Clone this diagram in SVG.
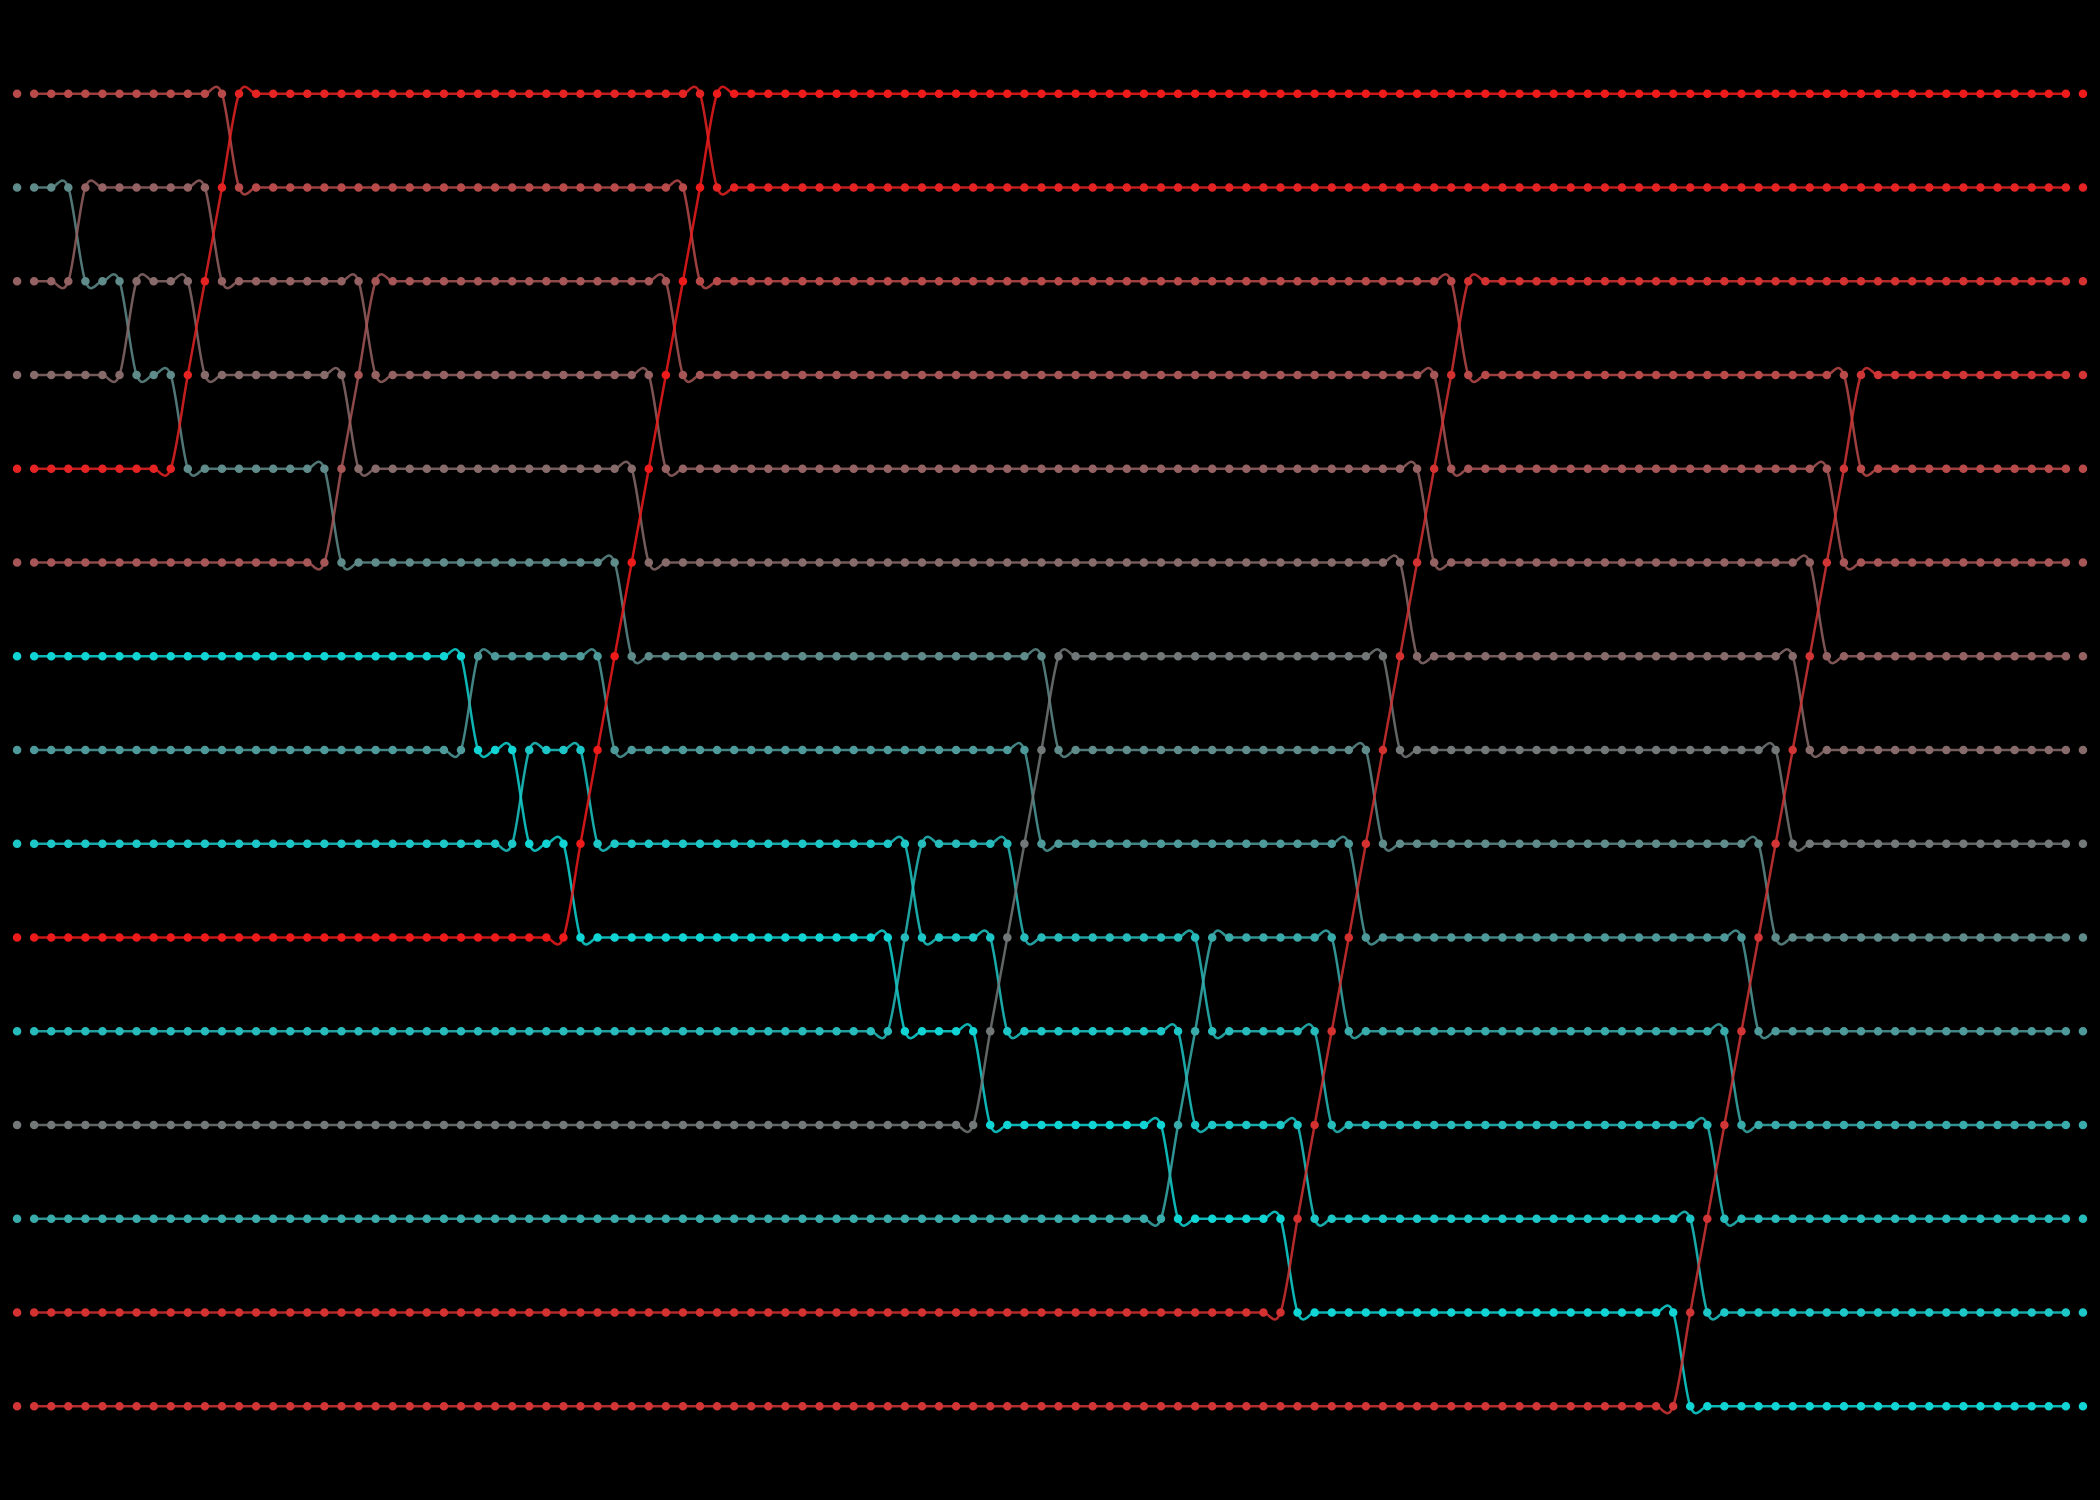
<svg xmlns="http://www.w3.org/2000/svg" width="2100" height="1500" viewBox="0 0 2100 1500">
<style>
.c path{fill:none;stroke-width:2.5;vector-effect:non-scaling-stroke;stroke-opacity:.85}
.d line{stroke-width:.5;stroke-linecap:round;stroke-dasharray:.001 .999}
.d circle{r:.25;stroke:none}
.e0{stroke:#b94a4a;fill:#b94a4a}
.e1{stroke:#5f8b8b;fill:#5f8b8b}
.e2{stroke:#946262;fill:#946262}
.e3{stroke:#876b6b;fill:#876b6b}
.e4{stroke:#e52323;fill:#e52323}
.e5{stroke:#a65656;fill:#a65656}
.e6{stroke:#11d5d5;fill:#11d5d5}
.e7{stroke:#4e9a9a;fill:#4e9a9a}
.e8{stroke:#1dc7c7;fill:#1dc7c7}
.e9{stroke:#ef1b1b;fill:#ef1b1b}
.e10{stroke:#27bbbb;fill:#27bbbb}
.e11{stroke:#727777;fill:#727777}
.e12{stroke:#3aabab;fill:#3aabab}
.e13{stroke:#d43131;fill:#d43131}
.e14{stroke:#d13535;fill:#d13535}
</style>
<rect width="2100" height="1500" fill="#000"/>
<g id="connectors" class="c" transform="matrix(17.07317 0 0 93.75 17.07317 93.75)">
<path class="e0" d="M1 0 L11 0 C11.3333 0 11.6667 -.1667 12 0 C12.3333 .1667 12.6667 .8333 13 1 C13.3333 1.1667 13.6667 1 14 1 L38 1 C38.3333 1 38.6667 .8333 39 1 C39.3333 1.1667 39.6667 1.8333 40 2 C40.3333 2.1667 40.6667 2 41 2 L83 2 C83.3333 2 83.6667 1.8333 84 2 C84.3333 2.1667 84.6667 2.8333 85 3 C85.3333 3.1667 85.6667 3 86 3 L106 3 C106.3333 3 106.6667 2.8333 107 3 C107.3333 3.1667 107.6667 3.8333 108 4 C108.3333 4.1667 108.6667 4 109 4 L120 4"/>
<path class="e1" d="M1 1 L2 1 C2.3333 1 2.6667 .8333 3 1 C3.3333 1.1667 3.6667 1.8333 4 2 C4.3333 2.1667 4.6667 2 5 2 C5.3333 2 5.6667 1.8333 6 2 C6.3333 2.1667 6.6667 2.8333 7 3 C7.3333 3.1667 7.6667 3 8 3 C8.3333 3 8.6667 2.8333 9 3 C9.3333 3.1667 9.6667 3.8333 10 4 C10.3333 4.1667 10.6667 4 11 4 L17 4 C17.3333 4 17.6667 3.8333 18 4 C18.3333 4.1667 18.6667 4.8333 19 5 C19.3333 5.1667 19.6667 5 20 5 L34 5 C34.3333 5 34.6667 4.8333 35 5 C35.3333 5.1667 35.6667 5.8333 36 6 C36.3333 6.1667 36.6667 6 37 6 L59 6 C59.3333 6 59.6667 5.8333 60 6 C60.3333 6.1667 60.6667 6.8333 61 7 C61.3333 7.1667 61.6667 7 62 7 L78 7 C78.3333 7 78.6667 6.8333 79 7 C79.3333 7.1667 79.6667 7.8333 80 8 C80.3333 8.1667 80.6667 8 81 8 L101 8 C101.3333 8 101.6667 7.8333 102 8 C102.3333 8.1667 102.6667 8.8333 103 9 C103.3333 9.1667 103.6667 9 104 9 L120 9"/>
<path class="e2" d="M1 2 L2 2 C2.3333 2 2.6667 2.1667 3 2 C3.3333 1.8333 3.6667 1.1667 4 1 C4.3333 .8333 4.6667 1 5 1 L10 1 C10.3333 1 10.6667 .8333 11 1 C11.3333 1.1667 11.6667 1.8333 12 2 C12.3333 2.1667 12.6667 2 13 2 L19 2 C19.3333 2 19.6667 1.8333 20 2 C20.3333 2.1667 20.6667 2.8333 21 3 C21.3333 3.1667 21.6667 3 22 3 L36 3 C36.3333 3 36.6667 2.8333 37 3 C37.3333 3.1667 37.6667 3.8333 38 4 C38.3333 4.1667 38.6667 4 39 4 L81 4 C81.3333 4 81.6667 3.8333 82 4 C82.3333 4.1667 82.6667 4.8333 83 5 C83.3333 5.1667 83.6667 5 84 5 L104 5 C104.3333 5 104.6667 4.8333 105 5 C105.3333 5.1667 105.6667 5.8333 106 6 C106.3333 6.1667 106.6667 6 107 6 L120 6"/>
<path class="e3" d="M1 3 L5 3 C5.3333 3 5.6667 3.1667 6 3 C6.3333 2.8333 6.6667 2.1667 7 2 C7.3333 1.8333 7.6667 2 8 2 L9 2 C9.3333 2 9.6667 1.8333 10 2 C10.3333 2.1667 10.6667 2.8333 11 3 C11.3333 3.1667 11.6667 3 12 3 L18 3 C18.3333 3 18.6667 2.8333 19 3 C19.3333 3.1667 19.6667 3.8333 20 4 C20.3333 4.1667 20.6667 4 21 4 L35 4 C35.3333 4 35.6667 3.8333 36 4 C36.3333 4.1667 36.6667 4.8333 37 5 C37.3333 5.1667 37.6667 5 38 5 L80 5 C80.3333 5 80.6667 4.8333 81 5 C81.3333 5.1667 81.6667 5.8333 82 6 C82.3333 6.1667 82.6667 6 83 6 L103 6 C103.3333 6 103.6667 5.8333 104 6 C104.3333 6.1667 104.6667 6.8333 105 7 C105.3333 7.1667 105.6667 7 106 7 L120 7"/>
<path class="e4" d="M1 4 L8 4 C8.3333 4 8.6667 4.1667 9 4 C9.3333 3.8333 9.6667 3.3333 10 3 C10.3333 2.6667 10.6667 2.3333 11 2 C11.3333 1.6667 11.6667 1.3333 12 1 C12.3333 .6667 12.6667 .1667 13 0 C13.3333 -.1667 13.6667 0 14 0 L39 0 C39.3333 0 39.6667 -.1667 40 0 C40.3333 .1667 40.6667 .8333 41 1 C41.3333 1.1667 41.6667 1 42 1 L120 1"/>
<path class="e5" d="M1 5 L17 5 C17.3333 5 17.6667 5.1667 18 5 C18.3333 4.8333 18.6667 4.3333 19 4 C19.3333 3.6667 19.6667 3.3333 20 3 C20.3333 2.6667 20.6667 2.1667 21 2 C21.3333 1.8333 21.6667 2 22 2 L37 2 C37.3333 2 37.6667 1.8333 38 2 C38.3333 2.1667 38.6667 2.8333 39 3 C39.3333 3.1667 39.6667 3 40 3 L82 3 C82.3333 3 82.6667 2.8333 83 3 C83.3333 3.1667 83.6667 3.8333 84 4 C84.3333 4.1667 84.6667 4 85 4 L105 4 C105.3333 4 105.6667 3.8333 106 4 C106.3333 4.1667 106.6667 4.8333 107 5 C107.3333 5.1667 107.6667 5 108 5 L120 5"/>
<path class="e6" d="M1 6 L25 6 C25.3333 6 25.6667 5.8333 26 6 C26.3333 6.1667 26.6667 6.8333 27 7 C27.3333 7.1667 27.6667 7 28 7 C28.3333 7 28.6667 6.8333 29 7 C29.3333 7.1667 29.6667 7.8333 30 8 C30.3333 8.1667 30.6667 8 31 8 C31.3333 8 31.6667 7.8333 32 8 C32.3333 8.1667 32.6667 8.8333 33 9 C33.3333 9.1667 33.6667 9 34 9 L50 9 C50.3333 9 50.6667 8.8333 51 9 C51.3333 9.1667 51.6667 9.8333 52 10 C52.3333 10.1667 52.6667 10 53 10 L55 10 C55.3333 10 55.6667 9.8333 56 10 C56.3333 10.1667 56.6667 10.8333 57 11 C57.3333 11.1667 57.6667 11 58 11 L66 11 C66.3333 11 66.6667 10.8333 67 11 C67.3333 11.1667 67.6667 11.8333 68 12 C68.3333 12.1667 68.6667 12 69 12 L73 12 C73.3333 12 73.6667 11.8333 74 12 C74.3333 12.1667 74.6667 12.8333 75 13 C75.3333 13.1667 75.6667 13 76 13 L96 13 C96.3333 13 96.6667 12.8333 97 13 C97.3333 13.1667 97.6667 13.8333 98 14 C98.3333 14.1667 98.6667 14 99 14 L120 14"/>
<path class="e7" d="M1 7 L25 7 C25.3333 7 25.6667 7.1667 26 7 C26.3333 6.8333 26.6667 6.1667 27 6 C27.3333 5.8333 27.6667 6 28 6 L33 6 C33.3333 6 33.6667 5.8333 34 6 C34.3333 6.1667 34.6667 6.8333 35 7 C35.3333 7.1667 35.6667 7 36 7 L58 7 C58.3333 7 58.6667 6.8333 59 7 C59.3333 7.1667 59.6667 7.8333 60 8 C60.3333 8.1667 60.6667 8 61 8 L77 8 C77.3333 8 77.6667 7.8333 78 8 C78.3333 8.1667 78.6667 8.8333 79 9 C79.3333 9.1667 79.6667 9 80 9 L100 9 C100.3333 9 100.6667 8.8333 101 9 C101.3333 9.1667 101.6667 9.8333 102 10 C102.3333 10.1667 102.6667 10 103 10 L120 10"/>
<path class="e8" d="M1 8 L28 8 C28.3333 8 28.6667 8.1667 29 8 C29.3333 7.8333 29.6667 7.1667 30 7 C30.3333 6.8333 30.6667 7 31 7 L32 7 C32.3333 7 32.6667 6.8333 33 7 C33.3333 7.1667 33.6667 7.8333 34 8 C34.3333 8.1667 34.6667 8 35 8 L51 8 C51.3333 8 51.6667 7.8333 52 8 C52.3333 8.1667 52.6667 8.8333 53 9 C53.3333 9.1667 53.6667 9 54 9 L56 9 C56.3333 9 56.6667 8.8333 57 9 C57.3333 9.1667 57.6667 9.8333 58 10 C58.3333 10.1667 58.6667 10 59 10 L67 10 C67.3333 10 67.6667 9.8333 68 10 C68.3333 10.1667 68.6667 10.8333 69 11 C69.3333 11.1667 69.6667 11 70 11 L74 11 C74.3333 11 74.6667 10.8333 75 11 C75.3333 11.1667 75.6667 11.8333 76 12 C76.3333 12.1667 76.6667 12 77 12 L97 12 C97.3333 12 97.6667 11.8333 98 12 C98.3333 12.1667 98.6667 12.8333 99 13 C99.3333 13.1667 99.6667 13 100 13 L120 13"/>
<path class="e9" d="M1 9 L31 9 C31.3333 9 31.6667 9.1667 32 9 C32.3333 8.8333 32.6667 8.3333 33 8 C33.3333 7.6667 33.6667 7.3333 34 7 C34.3333 6.6667 34.6667 6.3333 35 6 C35.3333 5.6667 35.6667 5.3333 36 5 C36.3333 4.6667 36.6667 4.3333 37 4 C37.3333 3.6667 37.6667 3.3333 38 3 C38.3333 2.6667 38.6667 2.3333 39 2 C39.3333 1.6667 39.6667 1.3333 40 1 C40.3333 .6667 40.6667 .1667 41 0 C41.3333 -.1667 41.6667 0 42 0 L120 0"/>
<path class="e10" d="M1 10 L50 10 C50.3333 10 50.6667 10.1667 51 10 C51.3333 9.8333 51.6667 9.3333 52 9 C52.3333 8.6667 52.6667 8.1667 53 8 C53.3333 7.8333 53.6667 8 54 8 L57 8 C57.3333 8 57.6667 7.8333 58 8 C58.3333 8.1667 58.6667 8.8333 59 9 C59.3333 9.1667 59.6667 9 60 9 L68 9 C68.3333 9 68.6667 8.8333 69 9 C69.3333 9.1667 69.6667 9.8333 70 10 C70.3333 10.1667 70.6667 10 71 10 L75 10 C75.3333 10 75.6667 9.8333 76 10 C76.3333 10.1667 76.6667 10.8333 77 11 C77.3333 11.1667 77.6667 11 78 11 L98 11 C98.3333 11 98.6667 10.8333 99 11 C99.3333 11.1667 99.6667 11.8333 100 12 C100.3333 12.1667 100.6667 12 101 12 L120 12"/>
<path class="e11" d="M1 11 L55 11 C55.3333 11 55.6667 11.1667 56 11 C56.3333 10.8333 56.6667 10.3333 57 10 C57.3333 9.6667 57.6667 9.3333 58 9 C58.3333 8.6667 58.6667 8.3333 59 8 C59.3333 7.6667 59.6667 7.3333 60 7 C60.3333 6.6667 60.6667 6.1667 61 6 C61.3333 5.8333 61.6667 6 62 6 L79 6 C79.3333 6 79.6667 5.8333 80 6 C80.3333 6.1667 80.6667 6.8333 81 7 C81.3333 7.1667 81.6667 7 82 7 L102 7 C102.3333 7 102.6667 6.8333 103 7 C103.3333 7.1667 103.6667 7.8333 104 8 C104.3333 8.1667 104.6667 8 105 8 L120 8"/>
<path class="e12" d="M1 12 L66 12 C66.3333 12 66.6667 12.1667 67 12 C67.3333 11.8333 67.6667 11.3333 68 11 C68.3333 10.6667 68.6667 10.3333 69 10 C69.3333 9.6667 69.6667 9.1667 70 9 C70.3333 8.8333 70.6667 9 71 9 L76 9 C76.3333 9 76.6667 8.8333 77 9 C77.3333 9.1667 77.6667 9.8333 78 10 C78.3333 10.1667 78.6667 10 79 10 L99 10 C99.3333 10 99.6667 9.8333 100 10 C100.3333 10.1667 100.6667 10.8333 101 11 C101.3333 11.1667 101.6667 11 102 11 L120 11"/>
<path class="e13" d="M1 13 L73 13 C73.3333 13 73.6667 13.1667 74 13 C74.3333 12.8333 74.6667 12.3333 75 12 C75.3333 11.6667 75.6667 11.3333 76 11 C76.3333 10.6667 76.6667 10.3333 77 10 C77.3333 9.6667 77.6667 9.3333 78 9 C78.3333 8.6667 78.6667 8.3333 79 8 C79.3333 7.6667 79.6667 7.3333 80 7 C80.3333 6.6667 80.6667 6.3333 81 6 C81.3333 5.6667 81.6667 5.3333 82 5 C82.3333 4.6667 82.6667 4.3333 83 4 C83.3333 3.6667 83.6667 3.3333 84 3 C84.3333 2.6667 84.6667 2.1667 85 2 C85.3333 1.8333 85.6667 2 86 2 L120 2"/>
<path class="e14" d="M1 14 L96 14 C96.3333 14 96.6667 14.1667 97 14 C97.3333 13.8333 97.6667 13.3333 98 13 C98.3333 12.6667 98.6667 12.3333 99 12 C99.3333 11.6667 99.6667 11.3333 100 11 C100.3333 10.6667 100.6667 10.3333 101 10 C101.3333 9.6667 101.6667 9.3333 102 9 C102.3333 8.6667 102.6667 8.3333 103 8 C103.3333 7.6667 103.6667 7.3333 104 7 C104.3333 6.6667 104.6667 6.3333 105 6 C105.3333 5.6667 105.6667 5.3333 106 5 C106.3333 4.6667 106.6667 4.3333 107 4 C107.3333 3.6667 107.6667 3.1667 108 3 C108.3333 2.8333 108.6667 3 109 3 L120 3"/>
</g>
<g id="dots" class="d" transform="scale(17.07317)">
<g id="v0" class="e0">
<line x1="1" y1="5.4911" x2="13.01" y2="5.4911"/><line x1="14" y1="10.9821" x2="40.01" y2="10.9821"/><line x1="41" y1="16.4732" x2="85.01" y2="16.4732"/><line x1="86" y1="21.9643" x2="108.01" y2="21.9643"/><line x1="109" y1="27.4554" x2="122.01" y2="27.4554"/>
</g>
<g id="v1" class="e1">
<line x1="1" y1="10.9821" x2="4.01" y2="10.9821"/><line x1="5" y1="16.4732" x2="7.01" y2="16.4732"/><line x1="8" y1="21.9643" x2="10.01" y2="21.9643"/><line x1="11" y1="27.4554" x2="19.01" y2="27.4554"/><line x1="20" y1="32.9464" x2="36.01" y2="32.9464"/><line x1="37" y1="38.4375" x2="61.01" y2="38.4375"/><line x1="62" y1="43.9286" x2="80.01" y2="43.9286"/><line x1="81" y1="49.4196" x2="103.01" y2="49.4196"/><line x1="104" y1="54.9107" x2="122.01" y2="54.9107"/>
</g>
<g id="v2" class="e2">
<line x1="1" y1="16.4732" x2="4.01" y2="16.4732"/><line x1="5" y1="10.9821" x2="12.01" y2="10.9821"/><line x1="13" y1="16.4732" x2="21.01" y2="16.4732"/><line x1="22" y1="21.9643" x2="38.01" y2="21.9643"/><line x1="39" y1="27.4554" x2="83.01" y2="27.4554"/><line x1="84" y1="32.9464" x2="106.01" y2="32.9464"/><line x1="107" y1="38.4375" x2="122.01" y2="38.4375"/>
</g>
<g id="v3" class="e3">
<line x1="1" y1="21.9643" x2="7.01" y2="21.9643"/><line x1="8" y1="16.4732" x2="11.01" y2="16.4732"/><line x1="12" y1="21.9643" x2="20.01" y2="21.9643"/><line x1="21" y1="27.4554" x2="37.01" y2="27.4554"/><line x1="38" y1="32.9464" x2="82.01" y2="32.9464"/><line x1="83" y1="38.4375" x2="105.01" y2="38.4375"/><line x1="106" y1="43.9286" x2="122.01" y2="43.9286"/>
</g>
<g id="v4" class="e4">
<line x1="1" y1="27.4554" x2="10.01" y2="27.4554"/><circle cx="11" cy="21.9643"/><circle cx="12" cy="16.4732"/><circle cx="13" cy="10.9821"/><line x1="14" y1="5.4911" x2="41.01" y2="5.4911"/><line x1="42" y1="10.9821" x2="122.01" y2="10.9821"/>
</g>
<g id="v5" class="e5">
<line x1="1" y1="32.9464" x2="19.01" y2="32.9464"/><circle cx="20" cy="27.4554"/><circle cx="21" cy="21.9643"/><line x1="22" y1="16.4732" x2="39.01" y2="16.4732"/><line x1="40" y1="21.9643" x2="84.01" y2="21.9643"/><line x1="85" y1="27.4554" x2="107.01" y2="27.4554"/><line x1="108" y1="32.9464" x2="122.01" y2="32.9464"/>
</g>
<g id="v6" class="e6">
<line x1="1" y1="38.4375" x2="27.01" y2="38.4375"/><line x1="28" y1="43.9286" x2="30.01" y2="43.9286"/><line x1="31" y1="49.4196" x2="33.01" y2="49.4196"/><line x1="34" y1="54.9107" x2="52.01" y2="54.9107"/><line x1="53" y1="60.4018" x2="57.01" y2="60.4018"/><line x1="58" y1="65.8929" x2="68.01" y2="65.8929"/><line x1="69" y1="71.3839" x2="75.01" y2="71.3839"/><line x1="76" y1="76.875" x2="98.01" y2="76.875"/><line x1="99" y1="82.3661" x2="122.01" y2="82.3661"/>
</g>
<g id="v7" class="e7">
<line x1="1" y1="43.9286" x2="27.01" y2="43.9286"/><line x1="28" y1="38.4375" x2="35.01" y2="38.4375"/><line x1="36" y1="43.9286" x2="60.01" y2="43.9286"/><line x1="61" y1="49.4196" x2="79.01" y2="49.4196"/><line x1="80" y1="54.9107" x2="102.01" y2="54.9107"/><line x1="103" y1="60.4018" x2="122.01" y2="60.4018"/>
</g>
<g id="v8" class="e8">
<line x1="1" y1="49.4196" x2="30.01" y2="49.4196"/><line x1="31" y1="43.9286" x2="34.01" y2="43.9286"/><line x1="35" y1="49.4196" x2="53.01" y2="49.4196"/><line x1="54" y1="54.9107" x2="58.01" y2="54.9107"/><line x1="59" y1="60.4018" x2="69.01" y2="60.4018"/><line x1="70" y1="65.8929" x2="76.01" y2="65.8929"/><line x1="77" y1="71.3839" x2="99.01" y2="71.3839"/><line x1="100" y1="76.875" x2="122.01" y2="76.875"/>
</g>
<g id="v9" class="e9">
<line x1="1" y1="54.9107" x2="33.01" y2="54.9107"/><circle cx="34" cy="49.4196"/><circle cx="35" cy="43.9286"/><circle cx="36" cy="38.4375"/><circle cx="37" cy="32.9464"/><circle cx="38" cy="27.4554"/><circle cx="39" cy="21.9643"/><circle cx="40" cy="16.4732"/><circle cx="41" cy="10.9821"/><line x1="42" y1="5.4911" x2="122.01" y2="5.4911"/>
</g>
<g id="v10" class="e10">
<line x1="1" y1="60.4018" x2="52.01" y2="60.4018"/><circle cx="53" cy="54.9107"/><line x1="54" y1="49.4196" x2="59.01" y2="49.4196"/><line x1="60" y1="54.9107" x2="70.01" y2="54.9107"/><line x1="71" y1="60.4018" x2="77.01" y2="60.4018"/><line x1="78" y1="65.8929" x2="100.01" y2="65.8929"/><line x1="101" y1="71.3839" x2="122.01" y2="71.3839"/>
</g>
<g id="v11" class="e11">
<line x1="1" y1="65.8929" x2="57.01" y2="65.8929"/><circle cx="58" cy="60.4018"/><circle cx="59" cy="54.9107"/><circle cx="60" cy="49.4196"/><circle cx="61" cy="43.9286"/><line x1="62" y1="38.4375" x2="81.01" y2="38.4375"/><line x1="82" y1="43.9286" x2="104.01" y2="43.9286"/><line x1="105" y1="49.4196" x2="122.01" y2="49.4196"/>
</g>
<g id="v12" class="e12">
<line x1="1" y1="71.3839" x2="68.01" y2="71.3839"/><circle cx="69" cy="65.8929"/><circle cx="70" cy="60.4018"/><line x1="71" y1="54.9107" x2="78.01" y2="54.9107"/><line x1="79" y1="60.4018" x2="101.01" y2="60.4018"/><line x1="102" y1="65.8929" x2="122.01" y2="65.8929"/>
</g>
<g id="v13" class="e13">
<line x1="1" y1="76.875" x2="75.01" y2="76.875"/><circle cx="76" cy="71.3839"/><circle cx="77" cy="65.8929"/><circle cx="78" cy="60.4018"/><circle cx="79" cy="54.9107"/><circle cx="80" cy="49.4196"/><circle cx="81" cy="43.9286"/><circle cx="82" cy="38.4375"/><circle cx="83" cy="32.9464"/><circle cx="84" cy="27.4554"/><circle cx="85" cy="21.9643"/><line x1="86" y1="16.4732" x2="122.01" y2="16.4732"/>
</g>
<g id="v14" class="e14">
<line x1="1" y1="82.3661" x2="98.01" y2="82.3661"/><circle cx="99" cy="76.875"/><circle cx="100" cy="71.3839"/><circle cx="101" cy="65.8929"/><circle cx="102" cy="60.4018"/><circle cx="103" cy="54.9107"/><circle cx="104" cy="49.4196"/><circle cx="105" cy="43.9286"/><circle cx="106" cy="38.4375"/><circle cx="107" cy="32.9464"/><circle cx="108" cy="27.4554"/><line x1="109" y1="21.9643" x2="122.01" y2="21.9643"/>
</g>
</g>
</svg>
